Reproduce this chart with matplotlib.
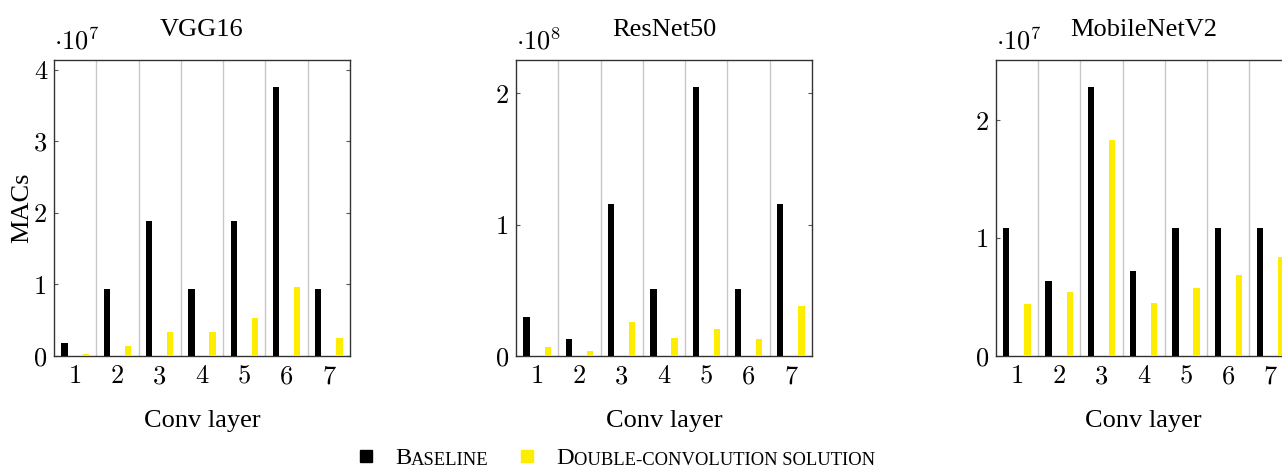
import matplotlib.pyplot as plt
import numpy as np
from matplotlib.lines import Line2D
from matplotlib.ticker import FuncFormatter

plt.rcParams["font.family"] = "Liberation Serif"
plt.rcParams["mathtext.fontset"] = "cm"

# data (MACs per conv layer)
layers = [1, 2, 3, 4, 5, 6, 7]
models = ["VGG16", "ResNet50", "MobileNetV2"]
exponents = [7, 8, 7]
yticks = [[0, 1, 2, 3, 4], [0, 1, 2], [0, 1, 2]]

vgg16_baseline = [0.18e7, 0.94e7, 1.88e7, 0.94e7, 1.88e7, 3.76e7, 0.94e7]
vgg16_double = [0.03e7, 0.14e7, 0.34e7, 0.34e7, 0.53e7, 0.965e7, 0.25e7]

resnet50_baseline = [0.295e8, 0.127e8, 1.155e8, 0.511e8, 2.05e8, 0.511e8, 1.155e8]
resnet50_double = [0.066e8, 0.038e8, 0.26e8, 0.14e8, 0.206e8, 0.13e8, 0.382e8]

mobilenet_baseline = [1.082e7, 0.64e7, 2.283e7, 0.72e7, 1.082e7, 1.082e7, 1.082e7]
mobilenet_double = [0.442e7, 0.54e7, 1.835e7, 0.45e7, 0.578e7, 0.685e7, 0.841e7]

baselines = [vgg16_baseline, resnet50_baseline, mobilenet_baseline]
doubles = [vgg16_double, resnet50_double, mobilenet_double]

BLACK = "#000000"
YELLOW = "#ffed00"

fig = plt.figure(figsize=(12.82, 4.68), dpi=100)
lefts = [54 / 1282, 516 / 1282, 995.7 / 1282]
bottom = 112 / 468
width = 296 / 1282
height = 296 / 468

x = np.array(layers)
for k in range(3):
    ax = fig.add_axes([lefts[k], bottom, width, height])
    scale = 10 ** exponents[k]
    ax.bar(x - 0.25, baselines[k], width=0.15, color=BLACK, zorder=3)
    ax.bar(x + 0.25, doubles[k], width=0.15, color=YELLOW, zorder=3)

    ax.set_xlim(0.5, 7.5)
    ax.set_ylim(0, 1.1 * max(baselines[k]))
    ax.set_xticks(layers)
    ax.set_xticks(np.arange(1.5, 7, 1), minor=True)
    ax.grid(which="minor", axis="x", color="#c8c8c8", linewidth=1.0, zorder=0)
    ax.set_yticks([t * scale for t in yticks[k]])
    ax.yaxis.set_major_formatter(FuncFormatter(lambda v, p, s=scale: f"{v / s:g}"))
    ax.tick_params(axis="x", which="both", length=0, pad=6)
    ax.tick_params(axis="y", direction="in", length=3, right=True, pad=5,
                   color="#555555")
    ax.tick_params(labelsize=19, labelfontfamily="cmr10")
    for sp in ax.spines.values():
        sp.set_color("#333333")
        sp.set_linewidth(1.0)

    ax.set_title(models[k], fontsize=19, pad=17)
    ax.text(0.0, 1.02, r"$\cdot 10^{%d}$" % exponents[k], transform=ax.transAxes,
            fontsize=19, ha="left", va="bottom")
    ax.set_xlabel("Conv layer", fontsize=19, labelpad=16)
    if k == 0:
        ax.set_ylabel("MACs", fontsize=19)
        ax.yaxis.set_label_coords(-0.07, 0.5)

# legend with small caps labels
def legend_entry(xm, xt, color, big, rest):
    fig.add_artist(Line2D([xm], [12 / 468], marker="s", markersize=8,
                          color=color, linestyle="none",
                          transform=fig.transFigure))
    t = fig.text(xt, 4 / 468, big, fontsize=17.5, va="baseline")
    plt.annotate(rest, xy=(1, 0), xycoords=t, fontsize=13.4, va="bottom",
                 annotation_clip=False)

legend_entry(366 / 1282, 395 / 1282, BLACK, "B", "ASELINE")
legend_entry(527 / 1282, 556 / 1282, YELLOW, "D", "OUBLE-CONVOLUTION SOLUTION")

fig.savefig("out.png", dpi=100)
